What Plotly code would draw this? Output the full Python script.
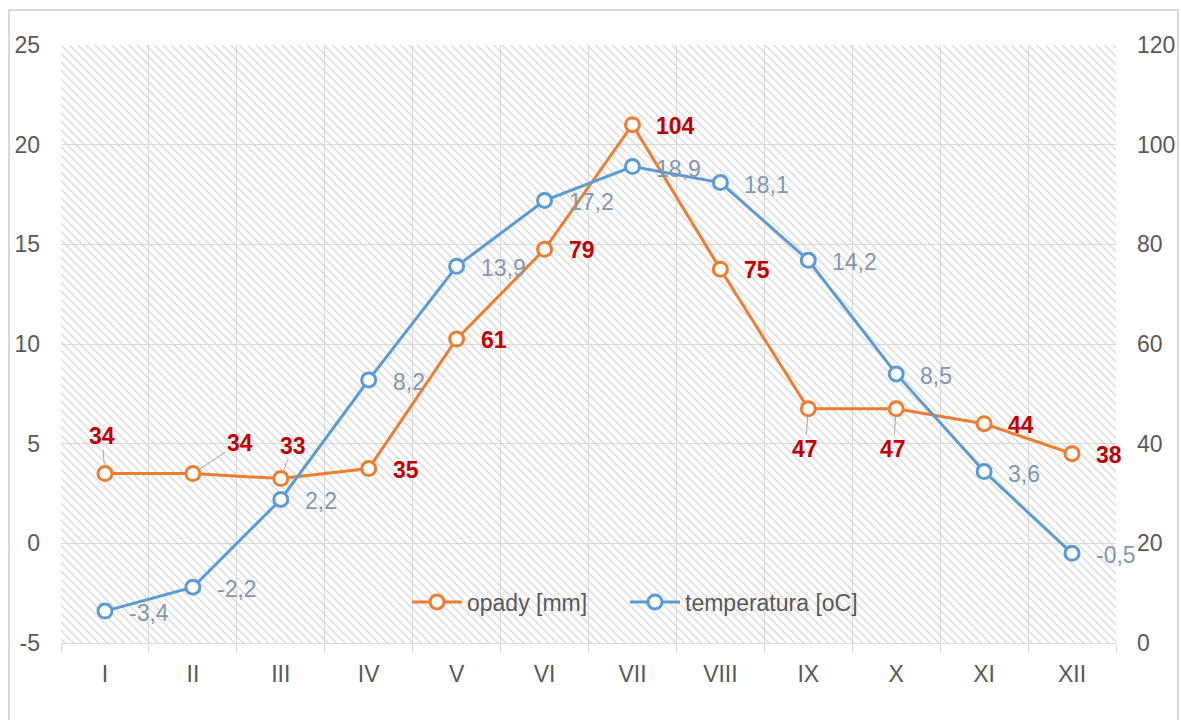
import plotly.graph_objects as go

months = ["I", "II", "III", "IV", "V", "VI", "VII", "VIII", "IX", "X", "XI", "XII"]
opady = [34, 34, 33, 35, 61, 79, 104, 75, 47, 47, 44, 38]
temperatura = [-3.4, -2.2, 2.2, 8.2, 13.9, 17.2, 18.9, 18.1, 14.2, 8.5, 3.6, -0.5]
temp_labels = [f"{v:.1f}".replace(".", ",") for v in temperatura]
temp_ticks = [-5, 0, 5, 10, 15, 20, 25]
opady_ticks = [0, 20, 40, 60, 80, 100, 120]

ORANGE = "#ED7D31"
BLUE = "#5B9BD5"
RED = "#C00000"
TLAB = "#8497B0"
GRID = "#D9D9D9"
TXT = "#595959"
FONT = "Liberation Sans, Arial, sans-serif"

Y1_RANGE = [0, 120]
Y2_RANGE = [-5, 25]

fig = go.Figure()

# hatched plot-area background
fig.add_trace(go.Bar(
    x=months, y=[Y1_RANGE[1]] * len(months), yaxis="y", width=1,
    marker=dict(color="rgba(0,0,0,0)", line=dict(width=0),
                pattern=dict(shape="\\", fgcolor="#D6D6D6", size=6, solidity=0.22, fillmode="replace")),
    hoverinfo="skip", showlegend=False,
))

fig.add_trace(go.Scatter(
    x=months, y=opady, yaxis="y", name="opady [mm]", mode="lines+markers", legend="legend",
    line=dict(color=ORANGE, width=3),
    marker=dict(symbol="circle", size=14, color="white", line=dict(color=ORANGE, width=3)),
))
fig.add_trace(go.Scatter(
    x=months, y=temperatura, yaxis="y2", name="temperatura [oC]", mode="lines+markers", legend="legend2",
    line=dict(color=BLUE, width=3),
    marker=dict(symbol="circle", size=14, color="white", line=dict(color=BLUE, width=3)),
))

annotations = []
leader = {0: (-3, -38), 1: (47, -31), 2: (12, -33), 8: (-3, 40), 9: (-3, 40)}
for i, (m, v) in enumerate(zip(months, opady)):
    if i in leader:
        ax, ay = leader[i]
        annotations.append(dict(x=m, y=v, xref="x", yref="y", text=f"<b>{v}</b>",
                                showarrow=True, arrowhead=0, arrowwidth=1, arrowcolor="#A6A6A6",
                                ax=ax, ay=ay, standoff=7,
                                font=dict(family=FONT, size=23, color=RED)))
    else:
        annotations.append(dict(x=m, y=v, xref="x", yref="y", text=f"<b>{v}</b>",
                                showarrow=False, xanchor="left", xshift=22, yshift=-1,
                                font=dict(family=FONT, size=23, color=RED)))
for m, v, t in zip(months, temperatura, temp_labels):
    annotations.append(dict(x=m, y=v, xref="x", yref="y2", text=t,
                            showarrow=False, xanchor="left", xshift=22, yshift=-2,
                            font=dict(family=FONT, size=23, color=TLAB)))

W, H = 1181, 720
L, R, T, B = 61, 65, 45, 77
pw, ph = W - L - R, H - T - B

legend_common = dict(orientation="h", y=(643 - 602) / ph, yanchor="middle", xanchor="left",
                     bgcolor="rgba(0,0,0,0)", itemwidth=50,
                     font=dict(family=FONT, size=23, color=TXT))

fig.update_layout(
    template="none",
    width=W, height=H, autosize=False,
    margin=dict(l=L, r=R, t=T, b=B, pad=0, autoexpand=False),
    paper_bgcolor="white", plot_bgcolor="white",
    font=dict(family=FONT, size=23, color=TXT),
    barmode="overlay",
    xaxis=dict(type="category", categoryorder="array", categoryarray=months,
               range=[-0.5, len(months) - 0.5], tickson="boundaries", automargin=False,
               ticks="outside", ticklen=8, tickcolor=GRID, tickwidth=1,
               showgrid=True, gridcolor=GRID, gridwidth=1,
               showline=True, linecolor=GRID, linewidth=1, mirror=False,
               tickfont=dict(family=FONT, size=23, color=TXT), ticklabelstandoff=10),
    yaxis=dict(side="right", range=Y1_RANGE, tickvals=opady_ticks,
               ticktext=[str(v) for v in opady_ticks], automargin=False,
               showgrid=True, gridcolor=GRID, gridwidth=1, zeroline=False,
               showline=False, ticks="", ticklabelstandoff=20,
               tickfont=dict(family=FONT, size=23, color=TXT)),
    yaxis2=dict(side="left", overlaying="y", range=Y2_RANGE, tickvals=temp_ticks,
                ticktext=[str(v) for v in temp_ticks], automargin=False,
                showgrid=False, zeroline=False, showline=False, ticks="",
                ticklabelstandoff=20, tickfont=dict(family=FONT, size=23, color=TXT)),
    legend=dict(legend_common, x=(407 - L) / pw),
    legend2=dict(legend_common, x=(625 - L) / pw),
    annotations=annotations,
    shapes=[dict(type="rect", xref="paper", yref="paper",
                 x0=(9 - L) / pw, x1=(1178 - L) / pw,
                 y0=(643 - 730) / ph, y1=(643 - 10) / ph,
                 line=dict(color=GRID, width=2), fillcolor="rgba(0,0,0,0)", layer="below")],
    showlegend=True,
)

fig.write_html(
    "out.html",
    config={"displayModeBar": False, "responsive": False},
    default_width="1181px", default_height="720px",
    post_script="document.body.style.margin='0';document.body.style.overflow='hidden';",
)
